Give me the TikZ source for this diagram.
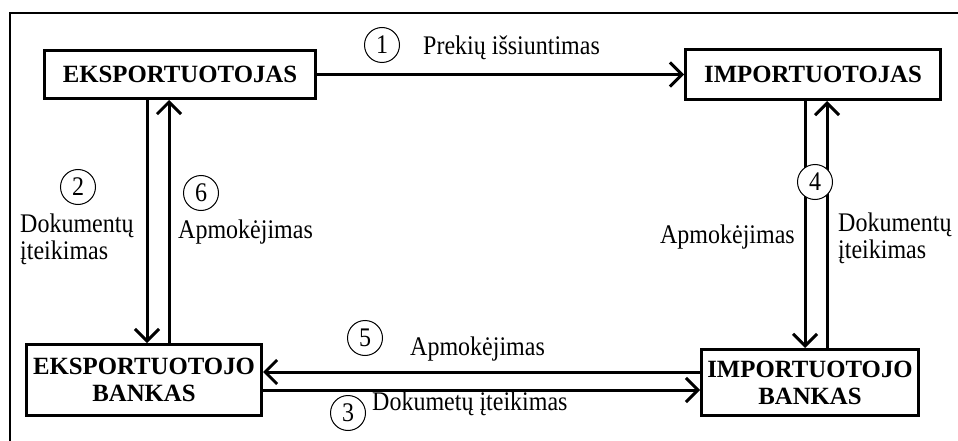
\documentclass[tikz,border=0pt]{standalone}
\usepackage{graphicx}
\usepackage{fontspec}
\setmainfont{Liberation Serif}
\usetikzlibrary{arrows.meta,positioning,calc}

% plain labels are set a little taller than wide
\newcommand{\tallt}[1]{\scalebox{1}[1.12]{#1}}

\begin{document}
\begin{tikzpicture}[
  x=1pt,y=-1pt,
  >={Straight Barb[length=12pt,width=24pt]},
  font=\fontsize{24pt}{27pt}\selectfont,
  party/.style={draw, line width=3pt, align=center, inner sep=0pt, font=\fontsize{24.8pt}{27pt}\selectfont\bfseries},
  num/.style={draw, circle, line width=1pt, fill=white, inner sep=0pt, minimum size=35pt},
  lbl/.style={inner sep=0pt, align=left},
  flow/.style={->, line width=3pt},
  frame/.style={line width=2pt}
]
\useasboundingbox (0,0) rectangle (958,441);
\draw[frame] (958,13) -| (10,441);

% the four parties
\node[party, minimum width=271pt, minimum height=48pt] (exp) at (180,74.5) {EKSPORTUOTOJAS};
\node[party, minimum width=255pt, minimum height=50pt] (imp) at (813,74.5) {IMPORTUOTOJAS};
\node[party, minimum width=235pt, minimum height=71pt] (ebank) at (144,380) {EKSPORTUOTOJO\\BANKAS};
\node[party, minimum width=217pt, minimum height=66pt] (ibank) at (810,382.5) {IMPORTUOTOJO\\BANKAS};

% flows between them
\draw[flow] (exp.east) -- (exp.east -| imp.west);
\draw[flow] ([xshift=-33pt]exp.south) -- ([xshift=-33pt]exp.south |- ebank.north);
\draw[flow] ([xshift=-11pt]exp.south |- ebank.north) -- ([xshift=-11pt]exp.south);
\draw[flow] ([xshift=-8pt]imp.south) -- ([xshift=-8pt]imp.south |- ibank.north);
\draw[flow] ([xshift=14pt]imp.south |- ibank.north) -- ([xshift=14pt]imp.south);
\draw[flow] ([yshift=10.5pt]ibank.west) -- ([yshift=10.5pt]ibank.west -| ebank.east);
\draw[flow] ([yshift=-7.5pt]ibank.west -| ebank.east) -- ([yshift=-7.5pt]ibank.west);

% step numbers and labels
\node[num] (n1) at (382,45) {\tallt{1}};
\node[lbl, anchor=base west] (t1) at (423,55) {\tallt{Prekių išsiuntimas}};
\node[num] (n2) at (78,187) {\tallt{2}};
\node[lbl, anchor=base west] (t2) at (20,259) {\tallt{Dokumentų}\\\tallt{įteikimas}};
\node[num] (n6) at (201,193) {\tallt{6}};
\node[lbl, anchor=base west] (t6) at (178,238) {\tallt{Apmokėjimas}};
\node[num] (n4) at (815,182) {\tallt{4}};
\node[lbl, anchor=base east] (t4a) at (795,243) {\tallt{Apmokėjimas}};
\node[lbl, anchor=base west] (t4b) at (838,258) {\tallt{Dokumentų}\\\tallt{įteikimas}};
\node[num] (n5) at (365,338) {\tallt{5}};
\node[lbl, anchor=base west] (t5) at (410,355) {\tallt{Apmokėjimas}};
\node[num] (n3) at (348,413) {\tallt{3}};
\node[lbl, anchor=base west] (t3) at (372,410) {\tallt{Dokumetų įteikimas}};
\end{tikzpicture}
\end{document}
